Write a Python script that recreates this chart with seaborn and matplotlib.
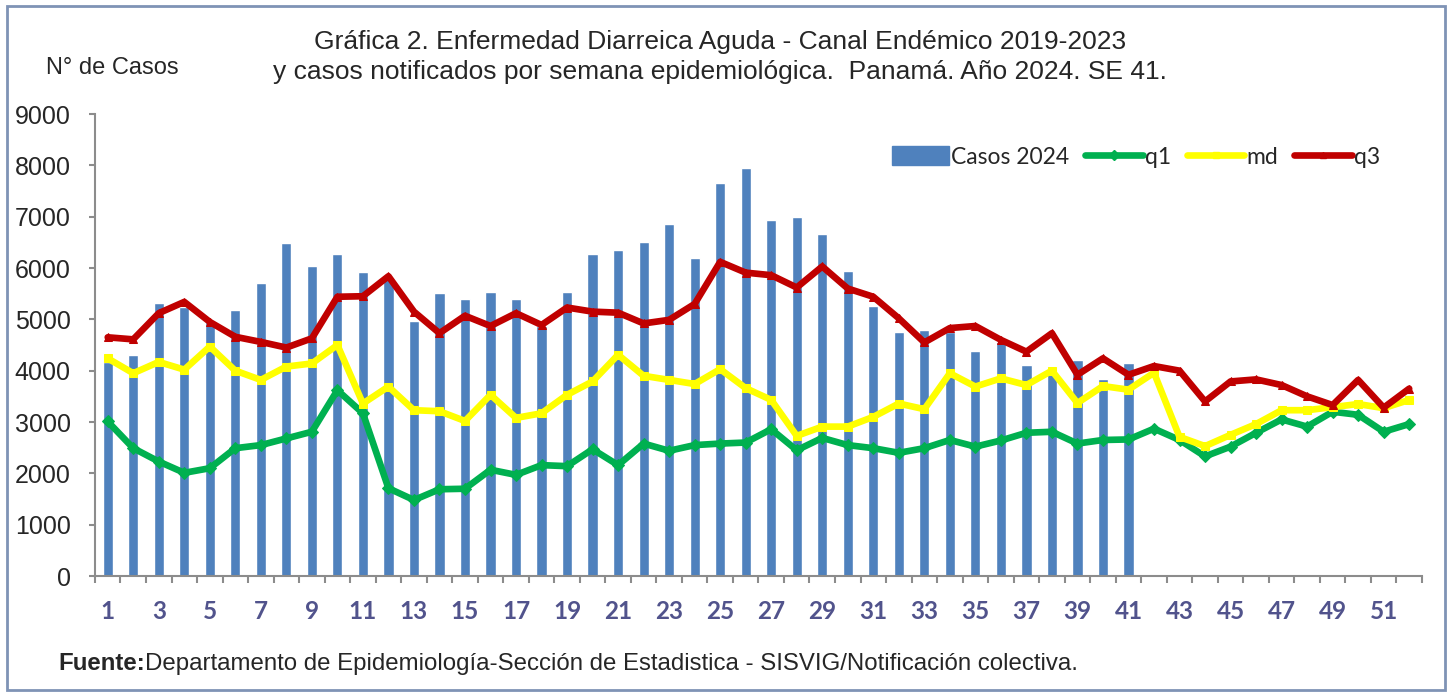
import numpy as np
import pandas as pd
import seaborn as sns
import matplotlib.pyplot as plt
from matplotlib.patches import Rectangle, Patch
from matplotlib.lines import Line2D

sns.set_theme(style="white")
plt.rcParams['font.family'] = ['Liberation Sans', 'DejaVu Sans']

# Semana epidemiologica
semanas = list(range(1, 53))

# Casos 2024 (SE 1-41)
casos_2024 = [4170, 4300, 5320, 5250, 4950, 5180, 5710, 6490, 6040, 6280,
              5930, 5780, 4970, 5520, 5400, 5540, 5400, 4880, 5530, 6280,
              6350, 6510, 6860, 6190, 7650, 7950, 6930, 7000, 6660, 5940,
              5260, 4750, 4790, 4750, 4390, 4550, 4120, 4070, 4210, 3830,
              4150]

q1 = [3010, 2490, 2230, 2010, 2100, 2490, 2550, 2680, 2810, 3620,
      3170, 1710, 1480, 1690, 1700, 2070, 1970, 2160, 2140, 2470,
      2160, 2580, 2440, 2550, 2580, 2600, 2860, 2450, 2690, 2550,
      2490, 2400, 2490, 2650, 2520, 2640, 2790, 2810, 2580, 2650,
      2660, 2870, 2650, 2330, 2520, 2790, 3050, 2910, 3200, 3140,
      2810, 2960]

md = [4240, 3950, 4170, 4020, 4470, 4000, 3820, 4080, 4140, 4500,
      3360, 3690, 3230, 3210, 3020, 3530, 3080, 3170, 3530, 3790,
      4310, 3900, 3820, 3740, 4030, 3660, 3430, 2730, 2910, 2910,
      3100, 3360, 3250, 3950, 3690, 3850, 3720, 4000, 3370, 3700,
      3630, 3960, 2710, 2530, 2750, 2960, 3230, 3230, 3290, 3350,
      3270, 3430]

q3 = [4650, 4610, 5120, 5340, 4950, 4660, 4560, 4450, 4630, 5440,
      5450, 5840, 5150, 4730, 5070, 4870, 5120, 4890, 5230, 5150,
      5130, 4920, 4990, 5300, 6120, 5910, 5860, 5620, 6030, 5600,
      5440, 5020, 4550, 4830, 4870, 4600, 4370, 4730, 3920, 4240,
      3920, 4090, 4000, 3400, 3790, 3830, 3720, 3500, 3330, 3820,
      3280, 3650]

df = pd.DataFrame({
    "semana": semanas,
    "casos": casos_2024 + [np.nan] * (len(semanas) - len(casos_2024)),
    "q1": q1, "md": md, "q3": q3,
})

fig = plt.figure(figsize=(14.52, 6.96), dpi=100)
ax = fig.add_axes([0.0654, 0.1724, 0.9139, 0.6638])

sns.barplot(data=df.dropna(subset=["casos"]), x="semana", y="casos",
            native_scale=True, width=0.4, color="#4F81BD", saturation=1,
            ax=ax, zorder=1)

series = [("q1", "#00B050", "D"), ("md", "#FFFF00", "s"), ("q3", "#C00000", "^")]
for name, col, mk in series:
    sns.lineplot(data=df, x="semana", y=name, color=col, lw=4.8,
                 marker=mk, markersize=6, markeredgecolor=col,
                 ax=ax, zorder=3)

ax.set_xlim(0.5, 52.5)
ax.set_ylim(0, 9000)
ax.set_yticks(range(0, 9001, 1000))
ax.set_yticklabels([str(v) for v in range(0, 9001, 1000)], fontsize=18)
ax.set_xticks(range(1, 53, 2))
ax.set_xticklabels([str(s) for s in range(1, 53, 2)],
                   fontsize=17.5, fontweight="bold", color="#51538C",
                   family=["Lato", "DejaVu Sans"])
ax.set_xticks(np.arange(0.5, 53, 1), minor=True)
ax.tick_params(axis="x", which="major", length=0, pad=17)
ax.tick_params(axis="x", which="minor", length=5, width=1.5, color="#8C8C8C",
               direction="out", bottom=True)
ax.tick_params(axis="y", length=4.5, width=1.5, color="#8C8C8C",
               direction="out", left=True, pad=13)
ax.set_xlabel("")
ax.set_ylabel("")
for side in ["top", "right"]:
    ax.spines[side].set_visible(False)
for side in ["left", "bottom"]:
    ax.spines[side].set_color("#8C8C8C")
    ax.spines[side].set_linewidth(1.5)

handles = [Patch(color="#4F81BD", label="Casos 2024"),
           Line2D([], [], color="#00B050", lw=4.8, marker="D", markersize=5, label="q1"),
           Line2D([], [], color="#FFFF00", lw=4.8, marker="s", markersize=5, label="md"),
           Line2D([], [], color="#C00000", lw=4.8, marker="^", markersize=5, label="q3")]
ax.legend(handles=handles, loc="upper right", bbox_to_anchor=(0.984, 0.975),
          ncol=4, frameon=False, prop={"family": ["Lato", "DejaVu Sans"], "size": 16.5},
          handlelength=2.5, handleheight=0.9, handletextpad=0.1, columnspacing=0.7)

fig.text(0.496, 0.94, "Gráfica 2. Enfermedad Diarreica Aguda - Canal Endémico 2019-2023",
         ha="center", va="center", fontsize=19)
fig.text(0.496, 0.8966, "y casos notificados por semana epidemiológica.  Panamá. Año 2024. SE 41.",
         ha="center", va="center", fontsize=19)
fig.text(0.032, 0.902, "N° de Casos", ha="left", va="center", fontsize=17)

fuente = fig.text(0.04, 0.046, "Fuente:", ha="left", va="center", fontsize=17.3,
                  fontweight="bold")
ax.annotate("Departamento de Epidemiología-Sección de Estadistica - SISVIG/Notificación colectiva.",
            xy=(1, 0.5), xycoords=fuente, ha="left", va="center", fontsize=17.3,
            annotation_clip=False)

fig.patches.append(Rectangle((0.005, 0.009), 0.99, 0.982, transform=fig.transFigure,
                             fill=False, edgecolor="#7F93B5", lw=2))

fig.savefig("out.png", dpi=100)
